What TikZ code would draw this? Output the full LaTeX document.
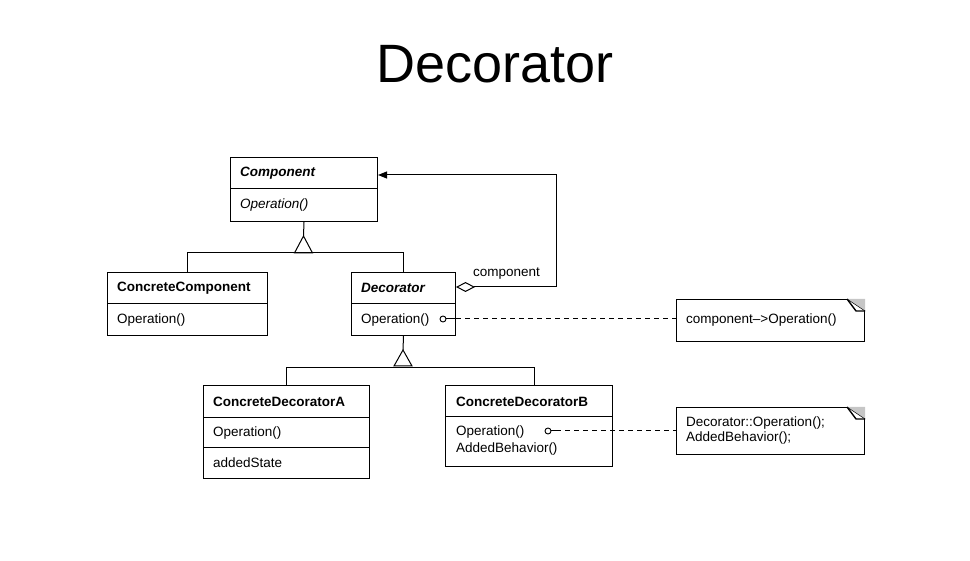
\documentclass[tikz,border=0pt]{standalone}
\usepackage{fontspec}
\setmainfont{Liberation Sans}
\usetikzlibrary{arrows.meta,calc}
\begin{document}
\begin{tikzpicture}[x=1pt,y=-1pt,
  box/.style={draw,line width=1pt,anchor=north west,inner sep=0pt},
  ln/.style={line width=1pt},
  tx/.style={anchor=west,inner sep=0pt,font=\fontsize{13.5}{15}\selectfont},
  nm/.style={anchor=west,inner sep=0pt,font=\fontsize{13.5}{15}\selectfont\bfseries},
  nmi/.style={anchor=west,inner sep=0pt,font=\fontsize{13.5}{15}\selectfont\bfseries\itshape},
  txi/.style={anchor=west,inner sep=0pt,font=\fontsize{13.5}{15}\selectfont\itshape},
  lolly/.style={circle,draw,line width=0.9pt,inner sep=0pt,minimum size=6pt},
  dsh/.style={line width=1pt,dash pattern=on 5pt off 4pt},
  notebox/.style={box},
]
\useasboundingbox (0,0) rectangle (970,561);

% title
\node[anchor=base,inner sep=0pt,font=\fontsize{54}{60}\selectfont] (title) at (495,83) {Decorator};

% Component
\node[box,minimum width=147pt,minimum height=64pt] (comp) at (230,157) {};
\draw[ln] (230,189) -- (377,189);
\node[nmi] (compn) at (240,173) {Component};
\node[txi] (compo) at (240,205) {Operation()};

% ConcreteComponent
\node[box,minimum width=160pt,minimum height=63pt] (cc) at (107,272) {};
\draw[ln] (107,304) -- (267,304);
\node[nm] (ccn) at (117,288) {ConcreteComponent};
\node[tx] (cco) at (117,320) {Operation()};

% Decorator
\node[box,minimum width=104pt,minimum height=63pt] (dec) at (351,272) {};
\draw[ln] (351,304) -- (455,304);
\node[nmi] (decn) at (361,288) {Decorator};
\node[tx] (deco) at (361,320) {Operation()};

% ConcreteDecoratorA
\node[box,minimum width=166pt,minimum height=93pt] (cda) at (203,385) {};
\draw[ln] (203,418) -- (369,418);
\draw[ln] (203,448) -- (369,448);
\node[nm] (cdan) at (213,402) {ConcreteDecoratorA};
\node[tx] (cdao) at (213,433) {Operation()};
\node[tx] (cdas) at (213,463) {addedState};

% ConcreteDecoratorB
\node[box,minimum width=167pt,minimum height=81pt] (cdb) at (445,385) {};
\draw[ln] (445,417) -- (612,417);
\node[nm] (cdbn) at (456,402) {ConcreteDecoratorB};
\node[tx] (cdbo) at (456,432) {Operation()};
\node[tx] (cdbb) at (456,449) {AddedBehavior()};

% inheritance 1
\coordinate (t1) at (303.5,236);
\draw[ln] (comp.south) -- (t1);
\draw[ln,line join=miter] (t1) -- (294.5,253) -- (312.5,253) -- cycle;
\draw[ln] (cc.north) -- ++(0,-19) -| (dec.north);

% inheritance 2
\coordinate (t2) at (403,350);
\draw[ln] (dec.south) -- (t2);
\draw[ln,line join=miter] (t2) -- (394,366) -- (412,366) -- cycle;
\coordinate (cdbtop) at ($(cdb.north west)+(89,0)$);
\draw[ln] (cda.north) -- ++(0,-17) -| (cdbtop);

% aggregation
\coordinate (agg) at ($(dec.north east)+(0,15)$);
\coordinate (tgt) at ($(comp.north east)+(0,18)$);
\draw[ln,{Diamond[open,length=19pt,width=10pt,line width=1pt]}-{Triangle[length=9pt,width=7pt]}]
  (agg) -- (556,287) |- (tgt);
\node[anchor=base west,inner sep=0pt,font=\fontsize{13.5}{15}\selectfont] (agglbl) at (473,277) {component};

% notes
\node[notebox,minimum width=188pt,minimum height=42pt] (note1) at (676,299) {};
\node[tx] (note1t) at (686,320) {component–>Operation()};
\node[notebox,minimum width=188pt,minimum height=47pt] (note2) at (676,407) {};
\node[tx] (note2t) at (686,423) {Decorator::Operation();};
\node[tx] (note2u) at (686,438) {AddedBehavior();};
\foreach \n in {note1,note2}{
  \fill[gray!45] ($(\n.north east)+(-18,0)$) -- (\n.north east) -- ($(\n.north east)+(0,12)$) -- cycle;
  \draw[line width=0.5pt] ($(\n.north east)+(-18,0)$) -- ($(\n.north east)+(0,12)$);
  \draw[line width=1.4pt,line join=miter] ($(\n.north east)+(-18,0)$) -- ($(\n.north east)+(-9,12)$) -- ($(\n.north east)+(0,12)$);
}

% lollipops
\node[lolly] (l1) at (443,319) {};
\draw[ln] (l1.east) -- (l1.east -| dec.east);
\draw[dsh] (l1.east -| dec.east) -- (l1.east -| note1.west);
\node[lolly] (l2) at (548,431) {};
\draw[ln] (l2.east) -- ++(5,0) coordinate (l2e);
\draw[dsh] (l2e) -- (l2e -| note2.west);
\end{tikzpicture}
\end{document}
